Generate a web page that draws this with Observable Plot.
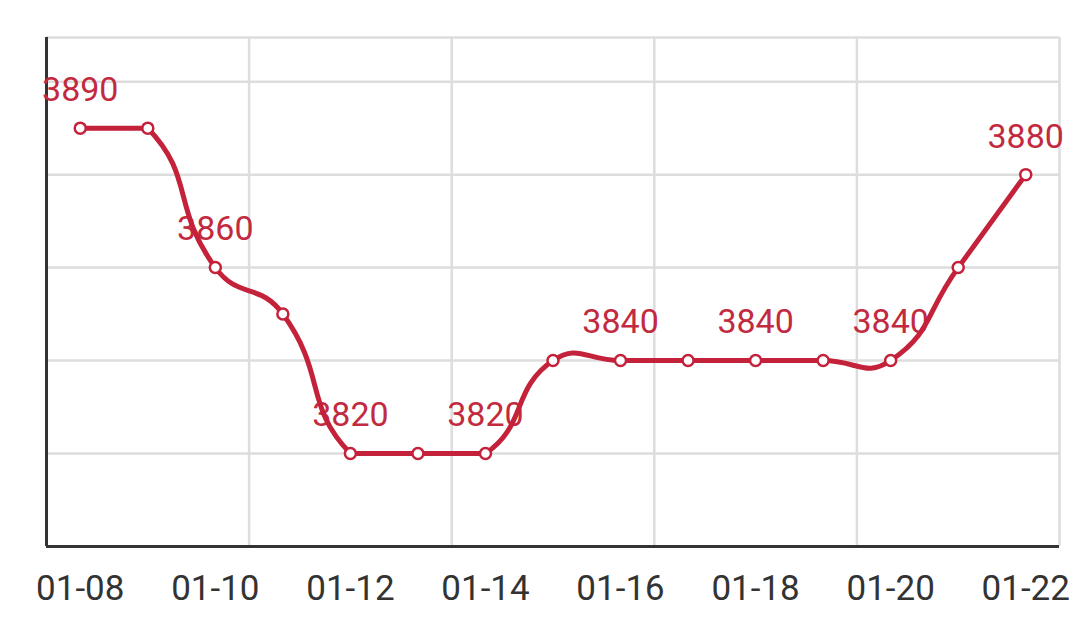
<!DOCTYPE html>
<html>
<head>
<meta charset="utf-8">
<script src="https://cdn.jsdelivr.net/npm/d3@7"></script>
<script src="https://cdn.jsdelivr.net/npm/@observablehq/plot@0.6"></script>
<style>
  html, body { margin: 0; padding: 0; background: #fff; }
  #chart svg { display: block; background: #fff; }
</style>
</head>
<body>
<div id="chart"></div>
<script>
// ---- data ----
const dates = ["01-08","01-09","01-10","01-11","01-12","01-13","01-14","01-15","01-16","01-17","01-18","01-19","01-20","01-21","01-22"];
const prices = [3890, 3890, 3860, 3850, 3820, 3820, 3820, 3840, 3840, 3840, 3840, 3840, 3840, 3860, 3880];
const tickDates = ["01-08","01-10","01-12","01-14","01-16","01-18","01-20","01-22"];
const labelDates = ["01-08","01-10","01-12","01-14","01-16","01-18","01-20","01-22"];
const yGridValues = [3820, 3840, 3860, 3880, 3900];
const yMin = 3800, yMax = 3909.5;

const RED = "#c4213a";
const LABEL = "#c22a40";
const GRID = "#dddddd";
const AXIS = "#333333";

const data = dates.map((d, i) => ({i, date: d, price: prices[i]}));
const labelled = data.filter(d => labelDates.includes(d.date));
const tickIdx = tickDates.map(d => dates.indexOf(d));
const xMin = -0.5, xMax = dates.length - 0.5;
const xGrid = d3.range(1, 6).map(k => xMin + k * dates.length / 5);

// smooth curve (bezier with control points clamped to the data's bounding box)
function smoothCurve(smooth) {
  return function(context) {
    let pts = [];
    return {
      areaStart() {}, areaEnd() {},
      lineStart() { pts = []; },
      point(x, y) { pts.push([+x, +y]); },
      lineEnd() {
        const n = pts.length;
        if (!n) return;
        const x0 = d3.min(pts, p => p[0]), x1 = d3.max(pts, p => p[0]);
        const y0 = d3.min(pts, p => p[1]), y1 = d3.max(pts, p => p[1]);
        const clamp = c => [Math.max(x0, Math.min(x1, c[0])), Math.max(y0, Math.min(y1, c[1]))];
        context.moveTo(pts[0][0], pts[0][1]);
        let cp0 = pts[0].slice();
        for (let i = 1; i < n; i++) {
          const p = pts[i], prev = pts[i - 1], next = pts[i + 1];
          let cp1, nextCp0;
          if (!next) { cp1 = p.slice(); nextCp0 = p.slice(); }
          else {
            const vx = next[0] - prev[0], vy = next[1] - prev[1];
            const d0 = Math.hypot(p[0] - prev[0], p[1] - prev[1]);
            const d1 = Math.hypot(next[0] - p[0], next[1] - p[1]);
            const r = (d0 + d1) ? d1 / (d0 + d1) : 0.5;
            cp1 = [p[0] - vx * smooth * (1 - r), p[1] - vy * smooth * (1 - r)];
            nextCp0 = [p[0] + vx * smooth * r, p[1] + vy * smooth * r];
          }
          const a = clamp(cp0), b = clamp(cp1);
          context.bezierCurveTo(a[0], a[1], b[0], b[1], p[0], p[1]);
          cp0 = nextCp0;
        }
      }
    };
  };
}

const chart = Plot.plot({
  width: 1079,
  height: 639,
  marginTop: 37,
  marginRight: 20,
  marginBottom: 93,
  marginLeft: 46,
  style: {fontFamily: "Roboto, 'Noto Sans', sans-serif", background: "#fff"},
  x: {type: "linear", domain: [xMin, xMax], axis: null},
  y: {domain: [yMin, yMax], axis: null},
  marks: [
    Plot.ruleY([...yGridValues, yMax], {stroke: GRID, strokeWidth: 2.5}),
    Plot.ruleX(xGrid, {y1: yMin, y2: yMax, stroke: GRID, strokeWidth: 2.5}),
    Plot.axisX({
      ticks: tickIdx,
      tickFormat: i => dates[i],
      tickSize: 0,
      tickPadding: 29,
      fontSize: 35,
      fill: "#333",
      label: null
    }),
    Plot.ruleY([yMin], {stroke: AXIS, strokeWidth: 3}),
    Plot.ruleX([xMin], {y1: yMin, y2: yMax, stroke: AXIS, strokeWidth: 3}),
    Plot.text(labelled, {x: "i", y: "price", text: d => String(d.price), dy: -38, fontSize: 34, fill: LABEL}),
    Plot.line(data, {x: "i", y: "price", stroke: RED, strokeWidth: 5, curve: smoothCurve(0.5)}),
    Plot.dot(data, {x: "i", y: "price", r: 5.5, fill: "#fff", stroke: RED, strokeWidth: 2.5})
  ]
});
document.getElementById("chart").appendChild(chart);
</script>
</body>
</html>
